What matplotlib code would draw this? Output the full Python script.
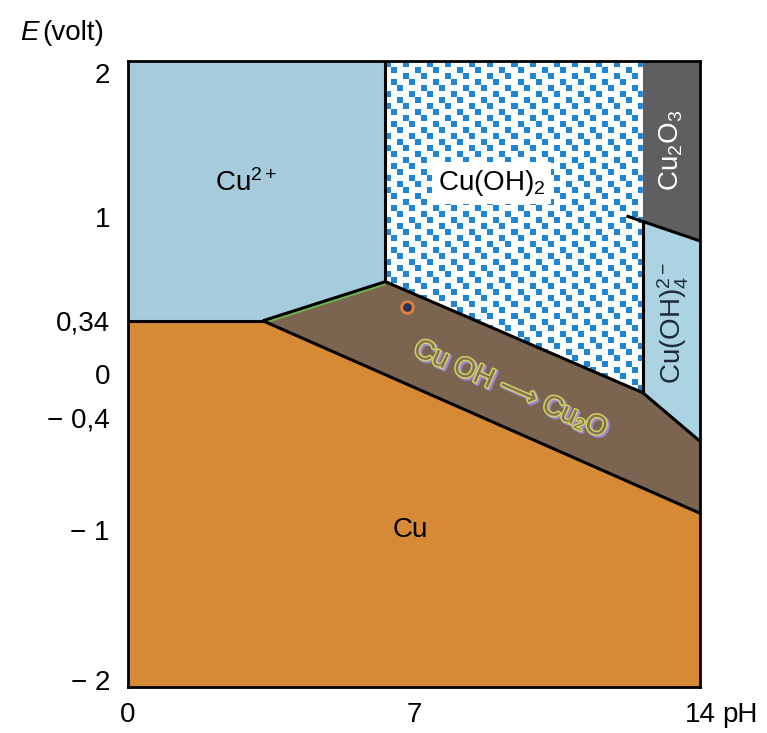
import numpy as np
import matplotlib
matplotlib.use("Agg")
import matplotlib.pyplot as plt
from matplotlib.patches import Polygon
from matplotlib.transforms import ScaledTranslation
import matplotlib.patheffects as pe

# ---------------- data (pH, E in volt) ----------------
# boundary lines of the Pourbaix diagram of copper
cu2_cu_ph = [0.0, 3.3]
cu2_cu_E = [0.34, 0.34]
cu2_cuoh_ph = [3.3, 6.3]
cu2_cuoh_E = [0.34, 0.59]
cuoh2_left_ph = [6.3, 6.3]
cuoh2_left_E = [0.59, 2.0]
cuoh2_cuoh_ph = [6.3, 12.6]
cuoh2_cuoh_E = [0.59, -0.12]
cuoh4_cuoh_ph = [12.6, 14.0]
cuoh4_cuoh_E = [-0.12, -0.43]
cuoh_cu_ph = [3.3, 14.0]
cuoh_cu_E = [0.34, -0.89]
cuoh2_cuoh4_ph = [12.6, 12.6]
cuoh2_cuoh4_E = [-0.12, 0.97]
cu2o3_ph = [12.2, 14.0]
cu2o3_E = [1.01, 0.85]

marker_ph = [6.83]
marker_E = [0.43]

yticks = [2, 1, 0.34, 0, -0.4, -1, -2]
ytick_labels = ["2", "1", "0,34", "0", "\u2212 0,4", "\u2212 1", "\u2212 2"]
xticks = [0, 7, 14]
xtick_labels = ["0", "7", "14"]

# ---------------- colours ----------------
c_blue = "#a6cbdc"
c_blue2 = "#acd3e2"
c_orange = "#d78a35"
c_brown = "#7b6550"
c_gray = "#5f5f61"
c_pat = "#1f86d6"

plt.rcParams['font.family'] = ['Liberation Sans', 'DejaVu Sans']
plt.rcParams['mathtext.fontset'] = 'custom'
plt.rcParams['mathtext.rm'] = 'Liberation Sans'
plt.rcParams['mathtext.it'] = 'Liberation Sans:italic'
plt.rcParams['mathtext.bf'] = 'Liberation Sans:bold'
FS = 20

fig = plt.figure(figsize=(7.67, 7.33), dpi=100)
ax = fig.add_axes([0.1669, 0.0628, 0.7458, 0.854])
ax.set_xlim(0, 14)
ax.set_ylim(-2, 2)

# ---------------- regions ----------------
ax.add_patch(Polygon([(0, -2), (14, -2), (14, 2), (0, 2)], closed=True,
                     facecolor=c_orange, edgecolor="none", zorder=1))
cu2_poly = [(0, 2), (cuoh2_left_ph[1], 2), (cuoh2_left_ph[0], cuoh2_left_E[0]),
            (cu2_cuoh_ph[0], cu2_cuoh_E[0]), (0, cu2_cu_E[0])]
ax.add_patch(Polygon(cu2_poly, closed=True, facecolor=c_blue, edgecolor="none", zorder=2))
cuoh_poly = [(cu2_cuoh_ph[0], cu2_cuoh_E[0]), (cu2_cuoh_ph[1], cu2_cuoh_E[1]),
             (cuoh2_cuoh_ph[1], cuoh2_cuoh_E[1]), (cuoh4_cuoh_ph[1], cuoh4_cuoh_E[1]),
             (cuoh_cu_ph[1], cuoh_cu_E[1])]
ax.add_patch(Polygon(cuoh_poly, closed=True, facecolor=c_brown, edgecolor="none", zorder=2))
cuoh2_poly = [(cuoh2_left_ph[0], 2), (cuoh2_cuoh4_ph[0], 2),
              (cuoh2_cuoh4_ph[0], cuoh2_cuoh4_E[0]), (cuoh2_cuoh_ph[0], cuoh2_cuoh_E[0])]
p_cuoh2 = Polygon(cuoh2_poly, closed=True, facecolor="white", edgecolor="none", zorder=2)
ax.add_patch(p_cuoh2)
e_at = np.interp(cuoh2_cuoh4_ph[0], cu2o3_ph, cu2o3_E)
cu2o3_poly = [(cuoh2_cuoh4_ph[0], 2), (14, 2), (14, cu2o3_E[1]), (cuoh2_cuoh4_ph[0], e_at)]
ax.add_patch(Polygon(cu2o3_poly, closed=True, facecolor=c_gray, edgecolor="none", zorder=2))
cuoh4_poly = [(cuoh2_cuoh4_ph[0], e_at), (14, cu2o3_E[1]), (14, cuoh4_cuoh_E[1]),
              (cuoh4_cuoh_ph[0], cuoh4_cuoh_E[0])]
ax.add_patch(Polygon(cuoh4_poly, closed=True, facecolor=c_blue2, edgecolor="none", zorder=2))

# pattern of blue squares for Cu(OH)2 (texture only)
x0, x1 = cuoh2_left_ph[0], cuoh2_cuoh4_ph[0]
y0, y1 = cuoh2_cuoh_E[1], 2.0
fig.canvas.draw()
p0 = ax.transData.transform((x0, y0))
p1 = ax.transData.transform((x1, y1))
W = int(round(p1[0] - p0[0]))
H = int(round(p1[1] - p0[1]))
cell = 6
sq = 6
jj, ii = np.mgrid[0:H, 0:W]
ci = ii // cell
cj = jj // cell
def on_lattice(a, b):
    return ((a + 2 * b) % 7) == 0
blue = on_lattice(ci, cj) | on_lattice(ci - 1, cj - 1)
inner = ((ii % cell) < sq) & ((jj % cell) < sq)
rgba = np.ones((H, W, 4))
col = np.array(matplotlib.colors.to_rgba(c_pat))
rgba[blue & inner] = col
im = ax.imshow(rgba, extent=(x0, x1, y0, y1), origin="upper", interpolation="nearest",
               aspect="auto", zorder=3)
im.set_clip_path(p_cuoh2)

# ---------------- boundary lines ----------------
lw = 2.2
green_off = matplotlib.transforms.offset_copy(ax.transData, fig=fig, x=0, y=-2, units="dots")
ax.plot(cu2_cuoh_ph, cu2_cuoh_E, color="#6fb34e", lw=2.2, zorder=4, transform=green_off,
        solid_capstyle="butt")
for xs, ys in [(cu2_cu_ph, cu2_cu_E), (cu2_cuoh_ph, cu2_cuoh_E), (cuoh2_left_ph, cuoh2_left_E),
               (cuoh2_cuoh_ph, cuoh2_cuoh_E), (cuoh4_cuoh_ph, cuoh4_cuoh_E),
               (cuoh_cu_ph, cuoh_cu_E), (cuoh2_cuoh4_ph, cuoh2_cuoh4_E), (cu2o3_ph, cu2o3_E)]:
    ax.plot(xs, ys, color="black", lw=lw, zorder=5, solid_capstyle="butt")

ax.scatter(marker_ph, marker_E, s=70, facecolor="#2b3650", edgecolor="#e57f3c",
           linewidth=2, zorder=6)

# ---------------- labels ----------------
ax.text(2.9, 1.22, "Cu$^{2+}$", fontsize=FS, ha="center", va="center", zorder=7)
ax.text(8.9, 1.22, "Cu(OH)$_2$", fontsize=FS, ha="center", va="center", zorder=7,
        bbox=dict(facecolor="white", edgecolor="none", pad=4))
ax.text(13.3, 1.43, "Cu$_2$O$_3$", fontsize=FS, ha="center", va="center", rotation=90,
        color="white", zorder=7)
ax.text(13.35, 0.33, "Cu(OH)$_4^{2-}$", fontsize=FS, ha="center", va="center", rotation=90,
        color="#1c2a3a", zorder=7)
ax.text(9.35, -0.1, "Cu OH \u27f6 Cu\u2082O", fontsize=FS, ha="center", va="center",
        rotation=-23.5, rotation_mode="anchor", color="#857058", zorder=7,
        family=['Liberation Sans', 'DejaVu Sans'],
        path_effects=[pe.Stroke(linewidth=2.6, foreground="#9a86d2", offset=(1.2, -1.2)),
                      pe.Stroke(linewidth=2.2, foreground="#cfd35e"),
                      pe.Normal()])
ax.text(6.9, -1.0, "Cu", fontsize=FS, ha="center", va="center", zorder=7)

# ---------------- axes ----------------
for s in ax.spines.values():
    s.set_linewidth(2.0)
    s.set_color("black")
    s.set_zorder(8)

ax.set_yticks(yticks)
ax.set_yticklabels(ytick_labels, fontsize=FS)
ax.set_xticks(xticks)
ax.set_xticklabels(xtick_labels, fontsize=FS)
ax.tick_params(axis="both", which="major", length=0)
ax.tick_params(axis="y", which="major", pad=13)
ax.tick_params(axis="x", which="major", pad=11)
ax.set_yticks([1, 0, -1], minor=True)
ax.set_xticks([7], minor=True)
ax.tick_params(axis="both", which="minor", length=6, width=1, color="#333333")

nudges = {"2": -12, "\u2212 2": 7, "\u2212 0,4": 19}
for lab, txt in zip(ax.get_yticklabels(), ytick_labels):
    if txt in nudges:
        dy = nudges[txt] * 0.72 / 72.0
        lab.set_transform(lab.get_transform() + ScaledTranslation(0, dy, fig.dpi_scale_trans))

ax.text(1.0, 0.0, "pH", fontsize=FS, ha="left", va="top",
        transform=ax.transAxes + ScaledTranslation(22 / 100, -15 / 100, fig.dpi_scale_trans))

fig.text(20 / 767, 1 - 33 / 733, "E", fontsize=FS, style="italic", ha="left", va="center")
fig.text(42 / 767, 1 - 33 / 733, "(volt)", fontsize=FS, ha="left", va="center")

fig.savefig("out.png", dpi=100)
